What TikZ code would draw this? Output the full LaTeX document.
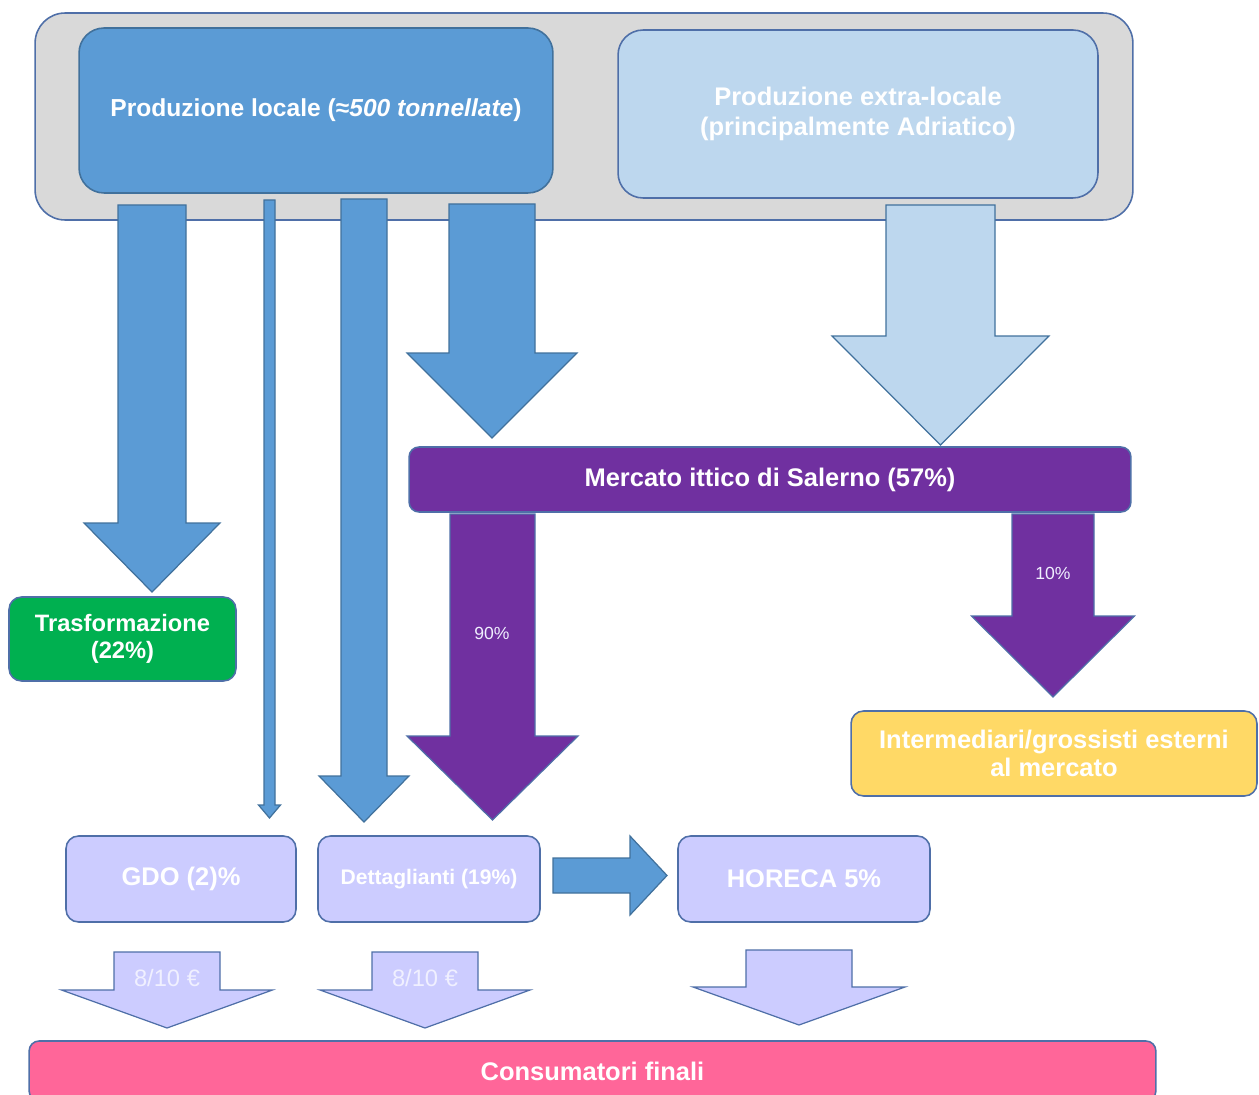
\documentclass[tikz,border=0pt]{standalone}
\usepackage{fontspec}
\setmainfont{Liberation Sans}
\definecolor{cgray}{HTML}{D9D9D9}
\definecolor{cframe}{HTML}{4F6FA8}
\definecolor{cblue}{HTML}{5B9BD5}
\definecolor{cbluedk}{HTML}{41719C}
\definecolor{clight}{HTML}{BDD7EE}
\definecolor{cpurple}{HTML}{7030A0}
\definecolor{cgreen}{HTML}{00B050}
\definecolor{cyellow}{HTML}{FFD966}
\definecolor{clav}{HTML}{CCCCFF}
\definecolor{cpink}{HTML}{FF6699}
\definecolor{clabel}{HTML}{F0F0FF}
\tikzset{
  box/.style={draw=cframe, line width=0.9pt, rounded corners=0.25cm, inner sep=0pt,
    align=center, text=white, font=\bfseries\fontsize{14.5}{17}\selectfont},
  blk/.style={draw=cbluedk, line width=0.7pt, line join=miter},
  lbl/.style={text=clabel, inner sep=0pt, font=\fontsize{10}{12}\selectfont},
  pricelbl/.style={text=clabel, inner sep=0pt, font=\fontsize{13.5}{16}\selectfont},
}
% #1 style, #2 x centre, #3 top, #4 neck, #5 tip, #6 shaft half width, #7 head half width
\newcommand{\blkdown}[7][]{%
  \draw[blk,#1] (#2-#6,#3) -- (#2+#6,#3) -- (#2+#6,#4) -- (#2+#7,#4) -- (#2,#5)
    -- (#2-#7,#4) -- (#2-#6,#4) -- cycle;}
\begin{document}
\begin{tikzpicture}[x=0.02cm,y=-0.02cm]
\useasboundingbox (0,0) rectangle (1259,1095);

% top container
\node[box, fill=cgray, rounded corners=0.6cm, minimum width=21.96cm, minimum height=4.14cm] (cont) at (584,116.5) {};
\node[box, fill=cblue, draw=cbluedk, rounded corners=0.5cm, minimum width=9.48cm, minimum height=3.3cm,
  font=\bfseries\fontsize{14}{17}\selectfont] (pl) at (316,110.5)
  {Produzione locale (≈\textit{500 tonnellate})};
\node[box, fill=clight, draw=cframe, rounded corners=0.5cm, minimum width=9.6cm, minimum height=3.36cm,
  font=\bfseries\fontsize{14.5}{17}\selectfont] (pe) at (858,114)
  {Produzione extra-locale\\(principalmente Adriatico)};

% arrows from local production
\blkdown[fill=cblue]{152}{205}{523}{592}{34}{68}
\blkdown[fill=cblue]{269.5}{200}{805}{818}{5.5}{11}
\blkdown[fill=cblue]{364}{199}{776}{822}{23}{45}
\blkdown[fill=cblue]{492}{204}{353}{438}{43}{85}
% arrow from extra-local production
\blkdown[fill=clight]{940.5}{205}{336}{445}{54.5}{108.5}

% market
\node[box, fill=cpurple, rounded corners=0.2cm, minimum width=14.44cm, minimum height=1.3cm] (merc) at (770,479.5)
  {Mercato ittico di Salerno (57\%)};

% purple arrows
\blkdown[fill=cpurple, draw=cframe]{492.5}{514}{736}{820}{42.5}{85.5}
\blkdown[fill=cpurple, draw=cframe]{1053}{514}{616}{697}{41}{81.5}
\node[lbl] (l90) at (492,633) {90\%};
\node[lbl] (l10) at (1053,573) {10\%};

% intermediate boxes
\node[box, fill=cgreen, minimum width=4.54cm, minimum height=1.68cm,
  font=\bfseries\fontsize{13.5}{15.3}\selectfont] (tras) at (122.5,639) {Trasformazione\\(22\%)};
\node[box, fill=cyellow, minimum width=8.12cm, minimum height=1.7cm,
  font=\bfseries\fontsize{14.5}{15.9}\selectfont] (inter) at (1054,753.5) {Intermediari/grossisti esterni\\al mercato};

% retail boxes
\node[box, fill=clav, minimum width=4.6cm, minimum height=1.72cm] (gdo) at (181,879) {GDO (2)\%};
\node[box, fill=clav, minimum width=4.44cm, minimum height=1.72cm,
  font=\bfseries\fontsize{12}{14}\selectfont] (det) at (429,879) {Dettaglianti (19\%)};
\node[box, fill=clav, minimum width=5.04cm, minimum height=1.72cm] (hor) at (804,879) {HORECA 5\%};

% right arrow from Dettaglianti to HORECA
\draw[blk, fill=cblue] (553,858) -- (630,858) -- (630,836) -- (667,875.5) -- (630,915) -- (630,893) -- (553,893) -- cycle;

% arrows to consumers
\blkdown[fill=clav, draw=cframe]{167}{952}{990}{1028}{53}{105.5}
\blkdown[fill=clav, draw=cframe]{425}{952}{990}{1028}{53}{105}
\blkdown[fill=clav, draw=cframe]{799}{950}{987}{1025}{53}{106}
\node[pricelbl] (p1) at (167,978) {8/10 €};
\node[pricelbl] (p2) at (425,978) {8/10 €};

% final consumers
\node[box, fill=cpink, rounded corners=0.2cm, minimum width=22.54cm, minimum height=1.2cm] (cons) at (592.5,1071)
  {Consumatori finali};
\end{tikzpicture}
\end{document}
